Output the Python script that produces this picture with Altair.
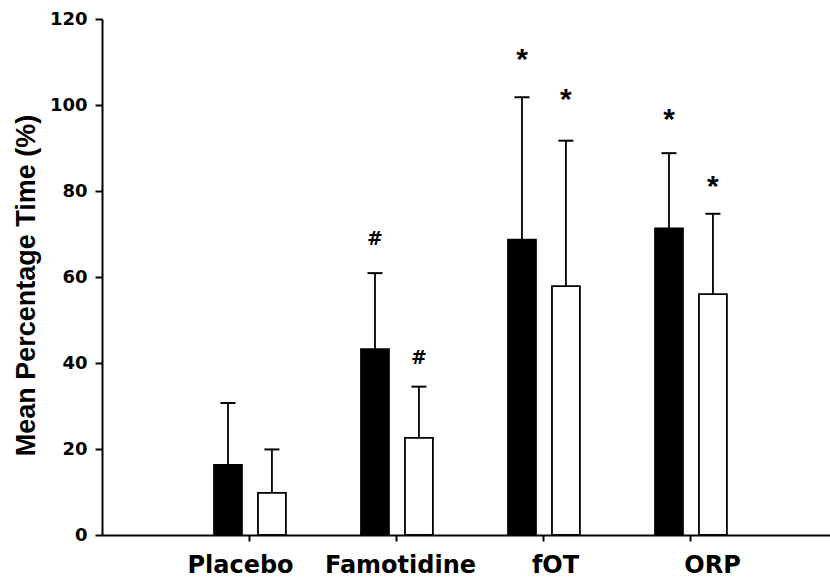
import json
import altair as alt
import pandas as pd

# ---- data ----
categories = ["Placebo", "Famotidine", "fOT", "ORP"]
black_mean = [16.3, 43.2, 68.7, 71.3]
black_sd = [14.4, 17.7, 33.1, 17.5]
white_mean = [9.8, 22.6, 57.9, 56.0]
white_sd = [10.1, 11.9, 33.8, 18.7]
marker_symbol = ["", "#", "*", "*"]
black_marker_y = [None, 69.0, 111.8, 98.0]
white_marker_y = [None, 41.4, 102.6, 82.3]
y_ticks = [0, 20, 40, 60, 80, 100, 120]

# ---- layout constants ----
OFFSET = {"black": -0.143, "white": 0.156}   # bar centre offset, category units
HALF_W = 0.095
CAP_HALF = 0.051
LABEL_SHIFT = [-9, 4, 12, 22]                 # px, category label shift seen in the figure

rows = []
marks = []
for i, cat in enumerate(categories):
    pos = i + 1
    for series, means, sds, mys in (("black", black_mean, black_sd, black_marker_y),
                                     ("white", white_mean, white_sd, white_marker_y)):
        c = pos + OFFSET[series]
        rows.append({
            "category": cat, "series": series, "mean": means[i],
            "upper": means[i] + sds[i], "center": c,
            "left": c - HALF_W, "right": c + HALF_W,
            "cap_l": c - CAP_HALF, "cap_r": c + CAP_HALF,
        })
        if mys[i] is not None:
            marks.append({"center": c, "y": mys[i], "sym": marker_symbol[i]})

df = pd.DataFrame(rows)
mk = pd.DataFrame(marks)

label_expr = json.dumps([""] + categories) + "[datum.value]"
label_offset = {
    "condition": [{"test": f"datum.value === {i + 1}", "value": s}
                  for i, s in enumerate(LABEL_SHIFT[:-1])],
    "value": LABEL_SHIFT[-1],
}

xscale = alt.Scale(domain=[0, 728 / 147], nice=False, zero=False)
yscale = alt.Scale(domain=[0, 120], nice=False)

x_axis = alt.Axis(
    values=[1, 2, 3, 4], labelExpr=label_expr, title=None, grid=False,
    domainColor="black", domainWidth=2, tickColor="black", tickWidth=2,
    tickSize=6, labelPadding=12, labelFont="DejaVu Sans", labelFontWeight="bold",
    labelFontSize=24, labelColor="black", labelAngle=0, labelAlign="center",
    labelOffset=label_offset,
)
y_axis = alt.Axis(
    values=y_ticks, title="Mean Percentage Time (%)", grid=False,
    domainColor="black", domainWidth=2, tickColor="black", tickWidth=2,
    tickSize=7, labelPadding=8, labelFont="DejaVu Sans", labelFontWeight="bold",
    labelFontSize=18, labelColor="black",
    titleFont="Liberation Sans", titleFontWeight="bold", titleFontSize=27,
    titleColor="black", titlePadding=9, titleY=266,
)

base = alt.Chart(df)

bars = base.mark_bar(stroke="black", strokeWidth=1.8).encode(
    x=alt.X("left:Q", scale=xscale, axis=x_axis),
    x2="right:Q",
    y=alt.Y("mean:Q", scale=yscale, axis=y_axis),
    y2=alt.datum(0),
    fill=alt.Fill("series:N", scale=alt.Scale(domain=["black", "white"],
                                               range=["black", "white"]), legend=None),
)

err = base.mark_rule(color="black", strokeWidth=1.8).encode(
    x="center:Q", y="mean:Q", y2="upper:Q",
)
caps = base.mark_rule(color="black", strokeWidth=2).encode(
    x="cap_l:Q", x2="cap_r:Q", y="upper:Q",
)

stars = alt.Chart(mk).transform_filter(alt.datum.sym == "*").mark_text(
    font="Liberation Sans", fontWeight="bold", fontSize=30, color="black",
    baseline="middle", align="center", dy=6,
).encode(x="center:Q", y="y:Q", text="sym:N")

hashes = alt.Chart(mk).transform_filter(alt.datum.sym == "#").mark_text(
    font="DejaVu Sans", fontWeight="bold", fontSize=19, color="black",
    baseline="middle", align="center", dy=1,
).encode(x="center:Q", y="y:Q", text="sym:N")

chart = alt.layer(bars, err, caps, stars, hashes).properties(
    width=728, height=516,
    autosize=alt.AutoSizeParams(type="none"),
    padding={"left": 102, "top": 19, "right": 0, "bottom": 46},
    background="white",
).configure_view(stroke=None)

chart.save("out.html", embed_options={"renderer": "svg", "actions": False})
